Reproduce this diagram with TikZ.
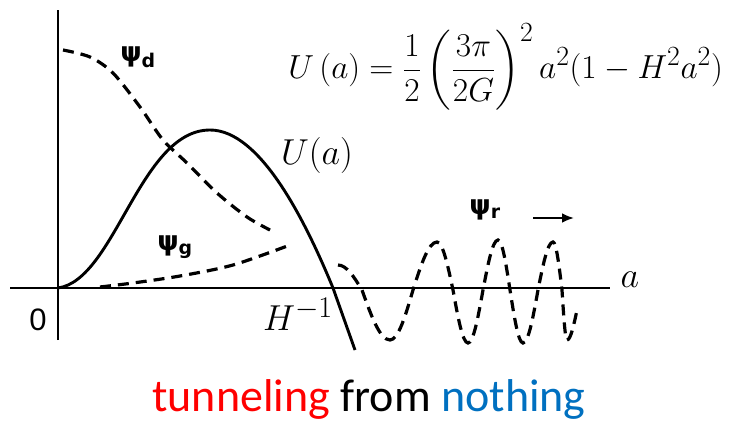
\documentclass[tikz,border=0pt]{standalone}
\usepackage{amsmath}
\usepackage{fontspec}
\usepackage{xcolor}
\usepackage{tikz}
\usetikzlibrary{arrows.meta}

\newfontfamily\capfont{Carlito}
\newfontfamily\psifont{DejaVu Sans}
\newfontfamily\numfont{Liberation Sans}
\definecolor{tunred}{RGB}{255,0,0}
\definecolor{nothblue}{RGB}{0,112,192}
\newcommand{\upot}{$\displaystyle U\,(a)=\frac{1}{2}\left(\frac{3\pi}{2G}\right)^{2}a^{2}(1-H^{2}a^{2})$}

\begin{document}
\begin{tikzpicture}[
    x=1pt,
    y=-1pt,
    axis/.style={
        line width=2.2pt
    },
    curve/.style={
        line width=2.9pt
    },
    wave/.style={
        line width=3.2pt,
        dash pattern=on 11pt off 7pt
    },
    lbl/.style={
        inner sep=0pt
    },
    psilbl/.style={
        inner sep=0pt,
        font=\psifont\bfseries\fontsize{27}{29}\selectfont
    },
    mathlbl/.style={
        inner sep=0pt,
        font=\Huge,
        scale=1.45
    },
    arrow/.style={
        -{Latex[length=12pt,width=10pt]},
        line width=2.6pt
    }
]

\useasboundingbox (0,0) rectangle (736,422);

% axes
\coordinate (ytop) at (58,10);
\coordinate (ybot) at (58,340);
\coordinate (xleft) at (10,288);
\coordinate (xright) at (610,288);

\draw[axis] (ybot) -- (ytop);
\draw[axis] (xleft) -- (xright);

\node[lbl, font=\numfont\fontsize{31}{33}\selectfont] (zero) at (38,320) {0};
\node[mathlbl] (alabel) at (630,280) {$a$};
\node[mathlbl] (hinv) at (298,314) {$H^{-1}$};
\node[mathlbl] (ulabel) at (317,155) {$U(a)$};

% potential
\draw[curve] (58,288) .. controls (115,280) and (140,130) .. (210,130)
    .. controls (260,130) and (305,220) .. (333,288) -- (355,350);

% wave functions
\draw[wave] plot[smooth] coordinates
    {(63,50) (90,57) (113,73) (140,107) (163,140) (187,163)
     (217,193) (247,217) (270,230)};

\draw[wave] plot[smooth] coordinates
    {(100,287) (133,283) (180,276) (233,265) (290,245)};

\draw[wave] (338,265) cos (362,290) sin (390,340) cos (413,290)
    sin (437,242) cos (453,290) sin (468,343) cos (483,290)
    sin (498,240) cos (510,290) sin (523,343) cos (538,290)
    sin (553,242) cos (562,290) sin (567,340) cos (577,310);

\node[psilbl] (psid) at (138,57) {ψ\textsubscript{d}};
\node[psilbl] (psig) at (175,247) {ψ\textsubscript{g}};
\node[psilbl] (psir) at (485,210) {ψ\textsubscript{r}};

\coordinate (arrtail) at (533,218);
\coordinate (arrhead) at (574,218);
\draw[arrow] (arrtail) -- (arrhead);

% formula
\node[lbl, anchor=west, font=\Huge, scale=1.34] (formula) at (288,67) {\upot};

% caption
\node[lbl, anchor=base, font=\capfont\fontsize{46}{50}\selectfont] (caption) at (369,411)
{
    \textcolor{tunred}{tunneling} from \textcolor{nothblue}{nothing}
};

\end{tikzpicture}
\end{document}
